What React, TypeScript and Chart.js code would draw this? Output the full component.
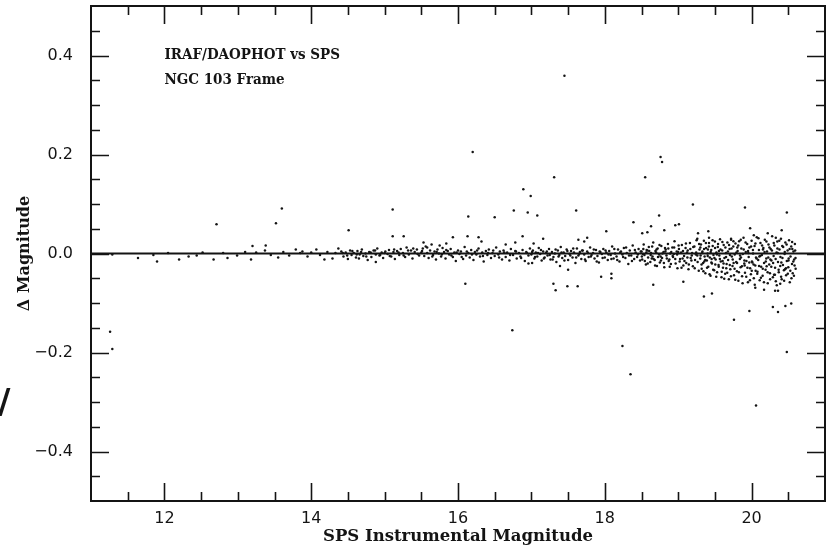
import React, { useEffect, useRef } from "react";
import { Chart, registerables } from "chart.js";

Chart.register(...registerables);

// ---------- data ----------
const xTickValues = [12, 14, 16, 18, 20];
const yTickValues = [-0.4, -0.2, 0.0, 0.2, 0.4];
const xMinorStep = 0.5;
const yMinorStep = 0.05;
const xRange = [11, 21];
const yRange = [-0.5, 0.5];
const xTitle = "SPS Instrumental Magnitude";
const yTitle = "\u0394 Magnitude";
const noteLines = ["IRAF/DAOPHOT vs SPS", "NGC 103 Frame"];

// sparse bright stars (11.3 - 14.4)
const brightStars: [number, number][] = [
  [11.29, -0.002], [11.64, -0.009], [11.85, -0.003], [11.9, -0.016], [12.05, 0.001], [12.2, -0.012],
  [12.33, -0.006], [12.44, -0.004], [12.52, 0.002], [12.67, -0.012], [12.8, 0.001], [12.86, -0.009],
  [12.99, -0.004], [13.1, 0.003], [13.18, -0.012], [13.2, 0.015], [13.25, 0.002], [13.38, 0.016],
  [13.37, 0.006], [13.45, -0.003], [13.55, -0.008], [13.62, 0.003], [13.7, -0.004], [13.79, 0.008],
  [13.85, 0.001], [13.88, 0.004], [13.95, -0.006], [14.0, 0.002], [14.07, 0.008], [14.12, -0.003],
  [14.18, -0.012], [14.22, 0.003], [14.29, -0.01], [14.33, 0.001], [14.37, 0.01],
];

// band 14.4 - 15.5
const bandA: [number, number][] = [
  [14.41, 0.004], [14.44, -0.006], [14.47, 0.002], [14.5, -0.011], [14.53, 0.006], [14.55, -0.003],
  [14.58, 0.001], [14.61, -0.008], [14.63, 0.005], [14.66, -0.002], [14.69, 0.008], [14.71, -0.005],
  [14.74, 0.0], [14.77, -0.013], [14.79, 0.003], [14.82, -0.007], [14.85, 0.006], [14.88, -0.002],
  [14.9, 0.01], [14.93, -0.004], [14.96, 0.002], [14.98, -0.009], [15.01, 0.004], [15.04, -0.001],
  [15.06, 0.007], [15.09, -0.006], [15.12, 0.003], [15.14, -0.011], [15.17, 0.005], [15.2, -0.003],
  [15.22, 0.009], [15.25, 0.001], [15.28, -0.007], [15.3, 0.012], [15.33, -0.002], [15.36, 0.006],
  [15.38, -0.01], [15.41, 0.003], [15.44, 0.008], [15.47, -0.004],
];

// band 15.5 - 17.0
const bandB: [number, number][] = [
  [15.5, 0.002], [15.52, 0.01], [15.54, -0.005], [15.56, 0.014], [15.58, 0.001], [15.6, -0.009],
  [15.62, 0.006], [15.64, 0.018], [15.66, -0.003], [15.68, 0.004], [15.7, -0.012], [15.72, 0.008],
  [15.74, 0.0], [15.77, -0.006], [15.79, 0.011], [15.81, 0.003], [15.83, -0.01], [15.86, 0.005],
  [15.88, -0.002], [15.9, 0.009], [15.93, -0.007], [15.95, 0.002], [15.97, -0.015], [16.0, 0.006],
  [16.02, -0.001], [16.04, 0.004], [16.07, -0.011], [16.09, 0.013], [16.11, -0.004], [16.14, 0.001],
  [16.16, -0.008], [16.18, 0.007], [16.21, -0.013], [16.23, 0.003], [16.25, -0.002], [16.28, 0.01],
  [16.3, -0.006], [16.33, 0.002], [16.35, -0.016], [16.38, 0.005], [16.4, -0.003], [16.42, 0.008],
  [16.45, -0.009], [16.47, 0.001], [16.5, -0.005], [16.52, 0.012], [16.55, -0.002], [16.57, 0.004],
  [16.6, -0.012], [16.62, 0.006], [16.65, -0.007], [16.67, 0.002], [16.7, -0.014], [16.72, 0.009],
  [16.75, -0.003], [16.78, 0.005], [16.8, -0.01], [16.83, 0.001], [16.85, -0.006], [16.88, 0.007],
  [16.91, -0.015], [16.93, 0.003], [16.96, -0.004], [16.98, 0.01],
];

// extra core points 14.4 - 17.0
const bandAB2: [number, number][] = [
  [14.43, 0.001], [14.49, -0.004], [14.56, 0.005], [14.62, -0.002], [14.68, 0.003], [14.75, -0.006],
  [14.81, 0.002], [14.87, 0.006], [14.94, -0.003], [15.0, 0.001], [15.07, -0.005], [15.13, 0.008],
  [15.19, 0.002], [15.26, -0.004], [15.32, 0.006], [15.39, 0.01], [15.45, -0.001], [15.51, 0.005],
  [15.58, 0.012], [15.65, -0.006], [15.71, 0.003], [15.78, -0.002], [15.84, 0.007], [15.91, -0.004],
  [15.98, 0.002], [16.05, -0.007], [16.12, 0.004], [16.19, -0.002], [16.26, 0.006], [16.34, -0.005],
  [16.41, 0.001], [16.48, 0.006], [16.56, -0.008], [16.63, 0.002], [16.71, -0.003], [16.79, 0.004],
  [16.86, -0.009], [16.94, 0.001],
];

// band 17.0 - 18.5
const bandC: [number, number][] = [
  [17.0, -0.002], [17.02, 0.006], [17.04, -0.01], [17.06, 0.002], [17.08, -0.006], [17.1, 0.011],
  [17.12, -0.001], [17.14, -0.014], [17.16, 0.004], [17.18, -0.008], [17.2, 0.001], [17.22, -0.004],
  [17.24, 0.009], [17.26, -0.012], [17.28, 0.003], [17.3, -0.007], [17.32, 0.0], [17.34, -0.017],
  [17.36, 0.006], [17.38, -0.003], [17.4, 0.013], [17.42, -0.009], [17.44, 0.002], [17.46, -0.005],
  [17.48, 0.008], [17.5, -0.013], [17.52, -0.001], [17.54, 0.005], [17.56, -0.008], [17.58, 0.002],
  [17.6, -0.019], [17.62, 0.01], [17.64, -0.004], [17.66, 0.003], [17.68, -0.011], [17.7, 0.006],
  [17.72, -0.002], [17.74, -0.015], [17.76, 0.004], [17.78, -0.007], [17.8, 0.012], [17.82, -0.003],
  [17.84, 0.001], [17.86, -0.01], [17.88, 0.007], [17.9, -0.005], [17.92, -0.018], [17.94, 0.003],
  [17.96, -0.001], [17.98, 0.009], [18.0, -0.008], [18.02, 0.002], [18.04, -0.013], [18.06, 0.005],
  [18.08, -0.003], [18.1, 0.014], [18.12, -0.01], [18.14, 0.0], [18.16, -0.006], [18.18, 0.008],
  [18.2, -0.016], [18.22, 0.004], [18.24, -0.002], [18.26, 0.011], [18.28, -0.009], [18.3, 0.001],
  [18.32, -0.021], [18.34, 0.006], [18.36, -0.004], [18.38, 0.016], [18.4, -0.011], [18.42, 0.002],
  [18.44, -0.007], [18.46, 0.009], [18.48, -0.014],
];

const bandC2: [number, number][] = [
  [17.01, 0.003], [17.05, -0.007], [17.09, 0.001], [17.13, 0.007], [17.17, -0.01], [17.21, 0.004],
  [17.25, -0.003], [17.29, -0.012], [17.33, 0.008], [17.37, -0.006], [17.41, 0.002], [17.45, -0.014],
  [17.49, 0.005], [17.53, -0.004], [17.57, 0.01], [17.61, -0.008], [17.65, -0.001], [17.69, 0.006],
  [17.73, -0.012], [17.77, 0.001], [17.81, -0.006], [17.85, 0.008], [17.89, -0.016], [17.93, 0.004],
  [17.97, -0.009], [18.01, 0.006], [18.05, -0.002], [18.09, -0.011], [18.13, 0.009], [18.17, -0.013],
  [18.21, 0.002], [18.25, -0.007], [18.29, 0.012], [18.33, -0.004], [18.37, -0.015], [18.41, 0.007],
  [18.45, -0.002], [18.49, 0.004],
];

// band 18.5 - 19.3
const bandD: [number, number][] = [
  [18.5, 0.004], [18.51, -0.012], [18.53, 0.018], [18.54, -0.003], [18.56, -0.022], [18.57, 0.007],
  [18.59, -0.008], [18.6, 0.013], [18.62, -0.017], [18.63, 0.001], [18.65, -0.006], [18.66, 0.022],
  [18.68, -0.013], [18.69, 0.005], [18.71, -0.025], [18.72, 0.01], [18.74, -0.002], [18.75, -0.018],
  [18.77, 0.015], [18.78, -0.009], [18.8, 0.003], [18.81, -0.028], [18.83, 0.008], [18.84, -0.004],
  [18.86, 0.019], [18.87, -0.015], [18.89, 0.0], [18.9, -0.021], [18.92, 0.012], [18.93, -0.007],
  [18.95, 0.025], [18.96, -0.011], [18.98, 0.004], [18.99, -0.03], [19.01, 0.009], [19.02, -0.016],
  [19.04, 0.002], [19.05, 0.017], [19.07, -0.024], [19.08, -0.005], [19.1, 0.011], [19.11, -0.019],
  [19.13, 0.006], [19.14, -0.032], [19.16, 0.021], [19.17, -0.009], [19.19, 0.001], [19.2, -0.026],
  [19.22, 0.014], [19.23, -0.013], [19.25, 0.027], [19.26, -0.004], [19.28, -0.035], [19.29, 0.008],
  [18.52, -0.001], [18.58, 0.006], [18.64, -0.01], [18.7, 0.002], [18.76, -0.006], [18.82, 0.011],
  [18.88, -0.012], [18.94, -0.001], [19.0, 0.003], [19.06, -0.01], [19.12, 0.002], [19.18, -0.014],
  [19.24, -0.002],
];

const bandD2: [number, number][] = [
  [18.505, -0.006], [18.525, 0.009], [18.545, -0.015], [18.565, 0.002], [18.585, -0.02], [18.605, 0.005],
  [18.625, -0.003], [18.645, 0.014], [18.665, -0.011], [18.685, -0.024], [18.705, 0.008], [18.725, -0.007],
  [18.745, 0.017], [18.765, -0.014], [18.785, 0.0], [18.805, -0.019], [18.825, 0.004], [18.845, -0.01],
  [18.865, 0.01], [18.885, -0.027], [18.905, 0.003], [18.925, -0.005], [18.945, 0.012], [18.965, -0.02],
  [18.985, -0.002], [19.005, 0.016], [19.025, -0.011], [19.045, -0.029], [19.065, 0.005], [19.085, -0.015],
  [19.105, 0.02], [19.125, -0.008], [19.145, -0.022], [19.165, 0.009], [19.185, -0.004], [19.205, 0.013],
  [19.225, -0.03], [19.245, 0.002], [19.265, -0.017], [19.285, 0.019],
];

// faint band 19.3 - 20.6
const bandE: [number, number][] = [
  [19.3, -0.01], [19.31, 0.018], [19.32, -0.031], [19.33, 0.004], [19.34, -0.019], [19.35, 0.026],
  [19.36, -0.006], [19.37, -0.04], [19.38, 0.011], [19.39, -0.014], [19.4, 0.0], [19.41, -0.027],
  [19.42, 0.021], [19.43, -0.008], [19.44, -0.045], [19.45, 0.007], [19.46, -0.02], [19.47, 0.015],
  [19.48, -0.003], [19.49, -0.034], [19.5, 0.024], [19.51, -0.012], [19.52, 0.002], [19.53, -0.038],
  [19.54, 0.013], [19.55, -0.023], [19.56, -0.004], [19.57, 0.029], [19.58, -0.016], [19.59, -0.048],
  [19.6, 0.006], [19.61, -0.029], [19.62, 0.017], [19.63, -0.009], [19.64, -0.041], [19.65, 0.001],
  [19.66, -0.021], [19.67, 0.022], [19.68, -0.013], [19.69, -0.052], [19.7, 0.009], [19.71, -0.032],
  [19.72, 0.03], [19.73, -0.006], [19.74, -0.025], [19.75, 0.014], [19.76, -0.044], [19.77, -0.002],
  [19.78, 0.02], [19.79, -0.017], [19.8, -0.036], [19.81, 0.005], [19.82, -0.055], [19.83, 0.025],
  [19.84, -0.011], [19.85, -0.028], [19.86, 0.01], [19.87, -0.046], [19.88, -0.001], [19.89, 0.032],
  [19.9, -0.02], [19.91, -0.039], [19.92, 0.003], [19.93, -0.015], [19.94, 0.019], [19.95, -0.058],
  [19.96, -0.007], [19.97, 0.012], [19.98, -0.03], [19.99, -0.042], [20.0, 0.026], [20.01, -0.018],
  [20.02, 0.0], [20.03, -0.05], [20.04, 0.015], [20.05, -0.024], [20.06, -0.008], [20.07, 0.033],
  [20.08, -0.037], [20.09, -0.013], [20.1, 0.007], [20.11, -0.054], [20.12, 0.021], [20.13, -0.027],
  [20.14, -0.003], [20.15, -0.045], [20.16, 0.011], [20.17, -0.019], [20.18, 0.028], [20.19, -0.033],
  [20.2, -0.01], [20.21, 0.004], [20.22, -0.06], [20.23, 0.018], [20.24, -0.022], [20.25, -0.04],
  [20.26, 0.009], [20.27, -0.014], [20.28, 0.035], [20.29, -0.048], [20.3, -0.005], [20.31, 0.016],
  [20.32, -0.029], [20.33, -0.056], [20.34, 0.002], [20.35, 0.024], [20.36, -0.017], [20.37, -0.038],
  [20.38, 0.008], [20.39, -0.025], [20.4, 0.03], [20.41, -0.052], [20.42, -0.009], [20.43, 0.013],
  [20.44, -0.034], [20.45, -0.001], [20.46, 0.022], [20.47, -0.044], [20.48, -0.015], [20.49, 0.006],
  [20.5, -0.028], [20.51, 0.027], [20.52, -0.058], [20.53, -0.006], [20.54, 0.014], [20.55, -0.021],
  [20.56, -0.04], [20.57, 0.004], [20.58, -0.012], [20.59, 0.019], [20.6, -0.031],
  [19.305, -0.004], [19.355, -0.016], [19.405, 0.008], [19.455, -0.011], [19.505, -0.022], [19.555, 0.005],
  [19.605, -0.015], [19.655, -0.03], [19.705, -0.003], [19.755, -0.019], [19.805, 0.012], [19.855, -0.008],
  [19.905, -0.024], [19.955, 0.001], [20.005, -0.016], [20.055, -0.035], [20.105, -0.006], [20.155, 0.008],
  [20.205, -0.026], [20.255, -0.012], [20.305, -0.043], [20.355, 0.001], [20.405, -0.018], [20.455, -0.032],
  [20.505, -0.01], [20.555, 0.009], [20.585, -0.024],
];

const bandE2: [number, number][] = [
  [19.302, 0.012], [19.318, -0.022], [19.327, 0.001], [19.343, -0.036], [19.352, 0.009], [19.368, -0.013],
  [19.377, 0.021], [19.393, -0.029], [19.402, -0.005], [19.418, 0.014], [19.427, -0.042], [19.443, 0.003],
  [19.452, -0.018], [19.468, 0.027], [19.477, -0.033], [19.493, -0.009], [19.502, 0.011], [19.518, -0.047],
  [19.527, -0.002], [19.543, 0.019], [19.552, -0.027], [19.568, -0.011], [19.577, 0.008], [19.593, -0.037],
  [19.602, 0.023], [19.618, -0.02], [19.627, -0.051], [19.643, 0.012], [19.652, -0.007], [19.668, -0.039],
  [19.677, 0.004], [19.693, 0.017], [19.702, -0.023], [19.718, -0.046], [19.727, 0.01], [19.743, -0.012],
  [19.752, 0.025], [19.768, -0.031], [19.777, -0.053], [19.793, 0.002], [19.802, -0.019], [19.818, 0.016],
  [19.827, -0.038], [19.843, -0.004], [19.852, 0.028], [19.868, -0.026], [19.877, -0.06], [19.893, 0.008],
  [19.902, -0.014], [19.918, 0.022], [19.927, -0.047], [19.943, -0.029], [19.952, 0.005], [19.968, -0.018],
  [19.977, -0.054], [19.993, 0.014], [20.002, -0.035], [20.018, 0.007], [20.027, -0.022], [20.043, -0.063],
  [20.052, 0.02], [20.068, -0.01], [20.077, -0.041], [20.093, 0.031], [20.102, -0.025], [20.118, -0.005],
  [20.127, -0.049], [20.143, 0.016], [20.152, -0.031], [20.168, -0.058], [20.177, 0.003], [20.193, -0.016],
  [20.202, 0.024], [20.218, -0.038], [20.227, -0.008], [20.243, 0.012], [20.252, -0.052], [20.268, -0.027],
  [20.277, 0.006], [20.293, -0.019], [20.302, 0.021], [20.318, -0.043], [20.327, -0.011], [20.343, -0.064],
  [20.352, 0.01], [20.368, -0.033], [20.377, 0.026], [20.393, -0.007], [20.402, -0.047], [20.418, 0.015],
  [20.427, -0.023], [20.443, -0.055], [20.452, 0.003], [20.468, -0.03], [20.477, 0.018], [20.493, -0.041],
  [20.502, -0.014], [20.518, 0.009], [20.527, -0.035], [20.543, -0.05], [20.552, 0.023], [20.568, -0.016],
  [20.577, -0.045], [20.593, 0.006], [20.598, -0.009],
];

// scattered outliers
const outliers: [number, number][] = [
  [11.26, -0.158], [11.29, -0.193], [12.71, 0.059], [13.6, 0.091], [13.52, 0.061], [17.45, 0.359],
  [16.2, 0.205], [17.31, 0.154], [16.89, 0.13], [16.99, 0.116], [17.61, 0.087], [16.76, 0.087],
  [16.95, 0.083], [17.08, 0.077], [16.14, 0.075], [16.5, 0.073], [15.11, 0.089], [14.51, 0.047],
  [15.11, 0.035], [15.26, 0.035], [15.93, 0.033], [16.13, 0.035], [16.28, 0.033], [16.32, 0.024],
  [16.88, 0.035], [17.16, 0.03], [16.78, 0.022], [16.65, 0.018], [17.03, 0.02], [15.53, 0.022],
  [15.84, 0.02], [15.75, 0.016], [17.64, 0.028], [16.1, -0.061], [16.74, -0.155], [16.96, -0.02],
  [17.01, -0.019], [17.3, -0.061], [17.33, -0.074], [17.49, -0.066], [17.63, -0.066], [17.5, -0.033],
  [17.39, -0.025], [14.88, -0.017], [14.65, -0.01],
  [18.76, 0.195], [18.78, 0.185], [18.55, 0.154], [19.2, 0.099], [19.91, 0.093], [20.48, 0.083],
  [18.39, 0.063], [18.74, 0.077], [18.96, 0.057], [19.01, 0.059], [18.63, 0.055], [19.98, 0.051],
  [18.81, 0.047], [18.51, 0.041], [18.58, 0.043], [18.02, 0.045], [19.27, 0.041], [19.41, 0.045],
  [20.22, 0.041], [20.41, 0.047], [20.03, 0.037], [17.72, 0.024], [17.76, 0.032], [19.26, 0.03],
  [19.42, 0.032], [19.72, 0.028], [20.33, 0.032],
  [17.95, -0.047], [18.09, -0.041], [18.09, -0.05], [18.66, -0.063], [19.07, -0.057], [19.35, -0.087],
  [19.46, -0.081], [18.24, -0.187], [18.35, -0.244], [19.76, -0.134], [19.97, -0.116], [20.29, -0.108],
  [20.36, -0.118], [20.46, -0.106], [20.54, -0.101], [20.48, -0.199], [20.06, -0.307], [20.05, -0.069],
  [20.17, -0.073], [20.32, -0.075], [20.36, -0.075], [20.39, -0.061],
];

const zeroLine: [number, number][] = [[11, 0], [21, 0]];

// ---------- helpers ----------
const toPts = (arr: [number, number][]) => arr.map(([x, y]) => ({ x, y }));
const INK = "#141414";
const NOTE_FONT = "bold 15px 'DejaVu Serif Condensed', 'Liberation Serif', serif";

const framePlugin = {
  id: "frameTicks",
  afterDatasetsDraw(chart: any) {
    const { ctx, chartArea: a, scales } = chart;
    const xs = scales.x;
    const ys = scales.y;
    ctx.save();
    ctx.strokeStyle = INK;
    ctx.lineWidth = 2;
    ctx.strokeRect(a.left, a.top, a.right - a.left, a.bottom - a.top);
    ctx.lineWidth = 1.6;
    ctx.beginPath();
    for (let v = xRange[0] + xMinorStep; v < xRange[1] - 1e-9; v += xMinorStep) {
      const major = xTickValues.some((t) => Math.abs(t - v) < 1e-6);
      const len = major ? 18 : 9;
      const px = Math.round(xs.getPixelForValue(v)) + 0.5;
      ctx.moveTo(px, a.bottom);
      ctx.lineTo(px, a.bottom - len);
      ctx.moveTo(px, a.top);
      ctx.lineTo(px, a.top + len);
    }
    for (let v = yRange[0] + yMinorStep; v < yRange[1] - 1e-9; v += yMinorStep) {
      const major = yTickValues.some((t) => Math.abs(t - v) < 1e-6);
      const len = major ? 18 : 9;
      const py = Math.round(ys.getPixelForValue(v)) + 0.5;
      ctx.moveTo(a.left, py);
      ctx.lineTo(a.left + len, py);
      ctx.moveTo(a.right, py);
      ctx.lineTo(a.right - len, py);
    }
    ctx.stroke();
    ctx.restore();
  },
  afterDraw(chart: any) {
    const { ctx, scales } = chart;
    ctx.save();
    ctx.fillStyle = INK;
    ctx.font = NOTE_FONT;
    ctx.textAlign = "left";
    ctx.textBaseline = "middle";
    const x0 = scales.x.getPixelForValue(12);
    ctx.fillText(noteLines[0], x0, scales.y.getPixelForValue(0.4));
    ctx.fillText(noteLines[1], x0, scales.y.getPixelForValue(0.35));
    ctx.restore();
  },
};

export default function App() {
  const canvasRef = useRef<HTMLCanvasElement | null>(null);

  useEffect(() => {
    if (!canvasRef.current) return;
    const dotStyle = {
      type: "scatter" as const,
      backgroundColor: INK,
      borderColor: INK,
      pointRadius: 1.25,
      pointBorderWidth: 0,
      pointHoverRadius: 1.25,
    };
    const bands = [brightStars, bandA, bandB, bandAB2, bandC, bandC2, bandD, bandD2, bandE, bandE2, outliers];
    const chart = new Chart(canvasRef.current, {
      type: "scatter",
      data: {
        datasets: [
          {
            type: "line",
            data: toPts(zeroLine),
            borderColor: INK,
            borderWidth: 2,
            pointRadius: 0,
            fill: false,
          } as any,
          ...bands.map((b) => ({ ...dotStyle, data: toPts(b) })),
        ],
      },
      options: {
        responsive: false,
        animation: false,
        events: [],
        layout: { padding: { top: 6, right: 3, left: 0, bottom: 0 } },
        plugins: { legend: { display: false }, tooltip: { enabled: false } },
        scales: {
          x: {
            type: "linear",
            min: xRange[0],
            max: xRange[1],
            grid: { display: false, drawTicks: false },
            border: { display: false },
            afterBuildTicks: (s: any) => {
              s.ticks = xTickValues.map((v) => ({ value: v }));
            },
            afterFit: (s: any) => {
              s.height = 49;
              s.paddingLeft = 0;
              s.paddingRight = 0;
              s.paddingTop = 0;
              s.paddingBottom = 0;
            },
            ticks: {
              color: INK,
              padding: 8,
              font: { family: "'DejaVu Sans'", size: 16 },
              callback: (v: any) => String(v),
            },
            title: {
              display: true,
              text: xTitle,
              color: INK,
              font: { family: "'DejaVu Serif'", size: 16.5, weight: "bold" },
              padding: { top: 0, bottom: 3 },
            },
          },
          y: {
            type: "linear",
            min: yRange[0],
            max: yRange[1],
            grid: { display: false, drawTicks: false },
            border: { display: false },
            afterBuildTicks: (s: any) => {
              s.ticks = yTickValues.map((v) => ({ value: v }));
            },
            afterFit: (s: any) => {
              s.width = 91;
              s.paddingTop = 0;
              s.paddingBottom = 0;
              s.paddingLeft = 0;
              s.paddingRight = 0;
            },
            ticks: {
              color: INK,
              padding: 18,
              font: { family: "'DejaVu Sans'", size: 16 },
              callback: (v: any) => {
                const n = Number(v);
                const s = Math.abs(n).toFixed(1);
                return n < -1e-9 ? "\u2212" + s : s;
              },
            },
            title: {
              display: true,
              text: yTitle,
              color: INK,
              font: { family: "'DejaVu Serif'", size: 16, weight: "bold" },
              padding: { top: 15, bottom: 0 },
            },
          },
        },
      },
      plugins: [framePlugin],
    });
    return () => chart.destroy();
  }, []);

  return (
    <div
      style={{
        position: "fixed",
        left: 0,
        top: 0,
        width: 828,
        height: 550,
        background: "#fff",
        overflow: "hidden",
      }}
    >
      <canvas ref={canvasRef} width={828} height={550} style={{ display: "block" }} />
      <span
        style={{
          position: "absolute",
          left: -2,
          top: 381,
          font: "bold 34px 'DejaVu Sans'",
          color: INK,
          lineHeight: "40px",
        }}
      >
        /
      </span>
    </div>
  );
}
